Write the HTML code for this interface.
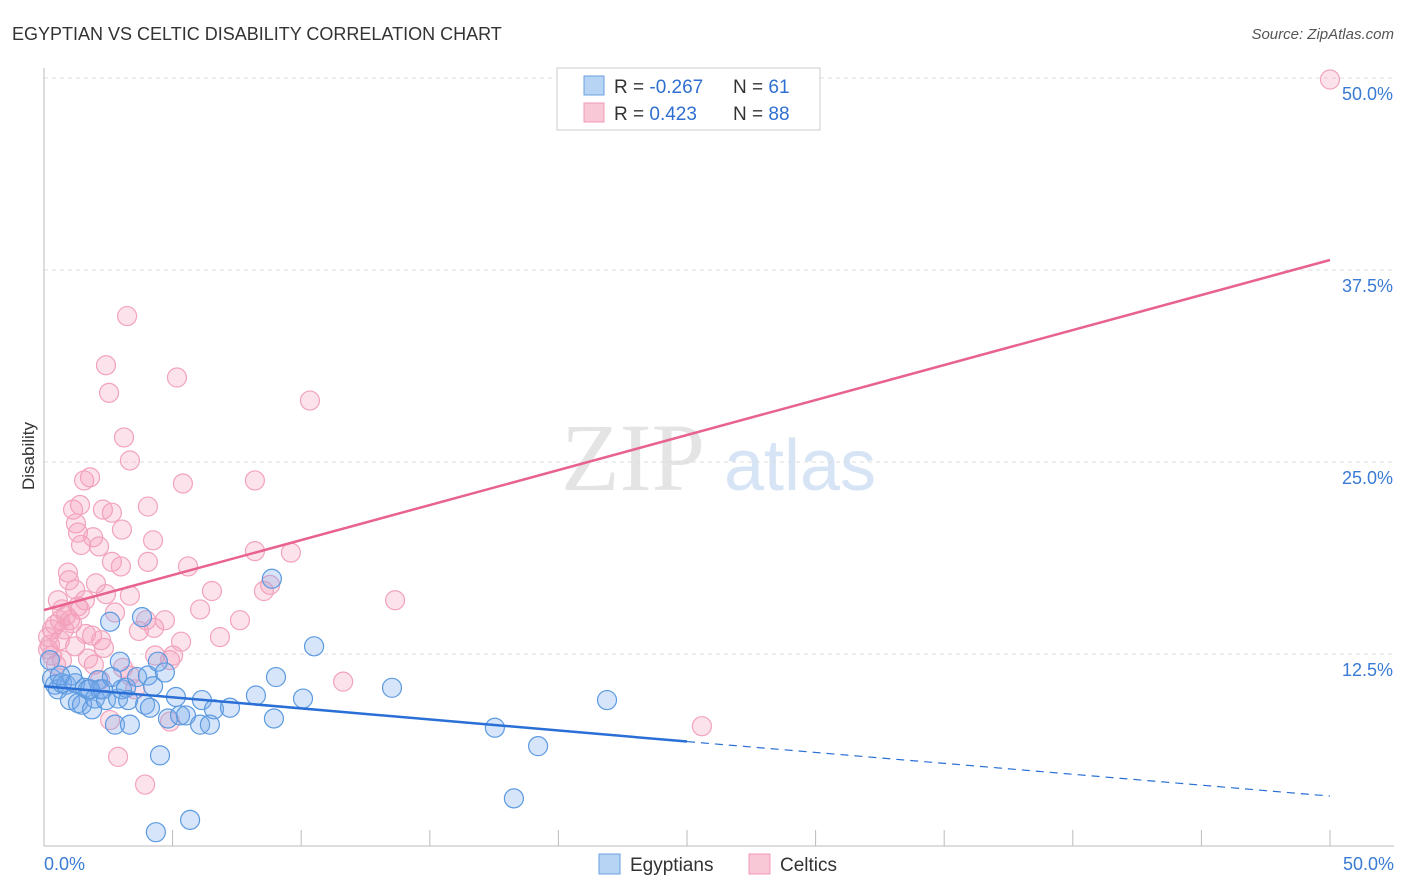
<!DOCTYPE html>
<html><head><meta charset="utf-8"><style>
body{margin:0;background:#fff;font-family:"Liberation Sans",sans-serif}
</style></head><body>
<svg width="1406" height="892" style="display:block">
<text x="12" y="40" font-size="18" fill="#333">EGYPTIAN VS CELTIC DISABILITY CORRELATION CHART</text>
<text x="1394" y="39" font-size="15" fill="#555" font-style="italic" text-anchor="end">Source: ZipAtlas.com</text>
<text x="633" y="490" font-size="96" fill="#e4e4e4" font-family="Liberation Serif" text-anchor="middle">ZIP</text>
<text x="800" y="490" font-size="72" fill="#d6e4f5" text-anchor="middle">atlas</text>
<text transform="translate(34,456) rotate(-90)" font-size="17" fill="#333" text-anchor="middle">Disability</text>
<g id="grid"></g><g id="pts"></g><g id="lines"></g>
<rect x="557" y="68" width="263" height="62" fill="#fff" stroke="#ccc"/>
<rect x="584" y="76" width="20" height="19" fill="#b8d4f5" stroke="#6aa0e0"/>
<rect x="584" y="103" width="20" height="19" fill="#f9c8d6" stroke="#f09ab4"/>
<text x="614" y="93" font-size="19" fill="#333">R = <tspan fill="#2f6fd0">-0.267</tspan></text>
<text x="733" y="93" font-size="19" fill="#333">N = <tspan fill="#2f6fd0"> 61</tspan></text>
<text x="614" y="120" font-size="19" fill="#333">R = <tspan fill="#2f6fd0"> 0.423</tspan></text>
<text x="733" y="120" font-size="19" fill="#333">N = <tspan fill="#2f6fd0">88</tspan></text>
<rect x="599" y="854" width="21" height="20" fill="#b8d4f5" stroke="#6aa0e0"/>
<text x="630" y="871" font-size="19" fill="#333">Egyptians</text>
<rect x="749" y="854" width="21" height="20" fill="#f9c8d6" stroke="#f09ab4"/>
<text x="780" y="871" font-size="19" fill="#333">Celtics</text>
</svg>
<script>
const yTicks=[12.5,25,37.5,50];
const yTickLabels=["12.5%","25.0%","37.5%","50.0%"];
const xTicks=[0,5,10,15,20,25,30,35,40,45,50];
const blueX=[0.23,0.31,0.43,0.54,0.7,0.86,1.01,1.09,1.21,1.32,1.48,1.59,1.71,1.87,1.98,2.1,2.18,2.29,2.41,2.57,2.64,2.76,2.88,2.95,3.03,3.19,3.27,3.34,3.62,3.81,3.93,4.04,4.12,4.24,4.43,4.51,4.7,4.82,5.13,5.29,5.52,5.68,6.07,6.14,6.45,6.61,7.23,8.24,8.94,8.86,9.02,10.07,10.5,13.53,4.35,17.53,18.27,19.21,21.89,1.79,0.62];
const blueY=[12.1,10.9,10.5,10.2,10.6,10.5,9.5,11.1,10.6,9.3,9.2,10.3,10.2,8.9,9.6,10.8,10.2,10.2,9.5,14.6,11.0,7.9,9.6,12.0,10.2,10.3,9.5,7.9,11.0,14.9,9.2,11.1,9.0,10.4,12.0,5.9,11.3,8.3,9.7,8.5,8.5,1.7,7.9,9.5,7.9,8.9,9.0,9.8,8.3,17.4,11.0,9.6,13.0,10.3,0.9,7.7,3.1,6.5,9.5,10.2,11.1];
const pinkX=[50,3.23,2.41,5.17,2.53,10.34,3.11,3.34,1.79,1.56,5.4,8.2,1.4,1.13,2.64,2.29,4.04,1.24,3.03,1.32,1.91,1.44,2.14,4.24,8.2,9.6,2.64,2.99,4.04,5.6,0.93,0.97,2.02,1.21,2.41,3.34,6.53,8.55,13.65,1.32,0.7,2.76,0.86,0.62,1.01,0.43,0.31,0.16,1.09,1.63,1.87,2.22,3.69,4.28,4.7,3.97,5.33,6.84,0.23,0.31,0.47,1.21,2.33,1.94,1.71,4.9,5.02,3.07,11.63,25.58,2.57,4.9,2.88,3.93,0.62,0.78,0.16,2.18,3.34,3.54,0.7,1.59,4.32,6.07,7.62,8.79,0.54,1.4];
const pinkY=[49.9,34.5,31.3,30.5,29.5,29.0,26.6,25.1,24.0,23.8,23.6,23.8,22.2,21.9,21.7,21.9,22.1,21.0,20.6,20.4,20.1,19.6,19.5,19.9,19.2,19.1,18.5,18.2,18.5,18.2,17.8,17.3,17.1,16.7,16.4,16.3,16.6,16.6,16.0,15.6,15.4,15.2,15.0,14.7,14.7,14.4,14.1,13.6,14.5,13.8,13.7,13.4,14.0,14.2,14.7,14.7,13.3,13.6,13.1,12.4,11.8,13.0,12.9,11.8,12.2,12.1,12.4,11.6,10.7,7.8,8.2,8.1,5.8,4.0,13.4,14.1,12.8,10.8,11.1,10.2,12.1,16.0,12.4,15.4,14.7,17.0,16.0,15.4];
const pinkTrend=[15.36,38.15];
const blueTrend=[10.4,6.8,3.25];
const NS="http://www.w3.org/2000/svg";
const X=v=>44+v*25.72, Y=v=>846-v*15.36;
function mk(t,a,p){const e=document.createElementNS(NS,t);for(const k in a)e.setAttribute(k,a[k]);document.getElementById(p).appendChild(e);return e;}
let g;
yTicks.forEach((t,i)=>{
 g=mk('line',{x1:44,x2:1394,y1:Y(t),y2:Y(t),stroke:'#ddd','stroke-dasharray':'4,4'},'grid');
 
 
 g=mk('text',{x:1393,y:Y(t)+22,'font-size':18,fill:'#3a7bd5','text-anchor':'end'},'grid');
 g.textContent=yTickLabels[i];
 
 
});
g=mk('line',{x1:44,x2:44,y1:68,y2:846,stroke:'#bbb'},'grid');


g=mk('line',{x1:44,x2:1394,y1:846,y2:846,stroke:'#bbb'},'grid');


xTicks.forEach(t=>{
 g=mk('line',{x1:X(t),x2:X(t),y1:830,y2:846,stroke:'#bbb'},'grid');
 
 
});
g=mk('text',{x:44,y:870,'font-size':18,fill:'#3a7bd5'},'grid');g.textContent='0.0%';


g=mk('text',{x:1394,y:870,'font-size':18,fill:'#3a7bd5','text-anchor':'end'},'grid');g.textContent='50.0%';


pinkX.forEach((x,i)=>{
 g=mk('circle',{cx:X(x),cy:Y(pinkY[i]),r:9.5,fill:'rgba(244,160,188,0.3)',stroke:'#f2a3bb','stroke-width':1.2},'pts');
 
 
});
blueX.forEach((x,i)=>{
 g=mk('circle',{cx:X(x),cy:Y(blueY[i]),r:9.5,fill:'rgba(120,170,235,0.3)',stroke:'#5c9ae0','stroke-width':1.2},'pts');
 
 
});
g=mk('line',{x1:X(0),y1:Y(pinkTrend[0]),x2:X(50),y2:Y(pinkTrend[1]),stroke:'#e8628e','stroke-width':2.5},'lines');


g=mk('line',{x1:X(0),y1:Y(blueTrend[0]),x2:X(25),y2:Y(blueTrend[1]),stroke:'#2a6fd6','stroke-width':2.5},'lines');


g=mk('line',{x1:X(25),y1:Y(blueTrend[1]),x2:X(50),y2:Y(blueTrend[2]),stroke:'#2a6fd6','stroke-width':1.2,'stroke-dasharray':'8,6'},'lines');


</script>
</body></html>
